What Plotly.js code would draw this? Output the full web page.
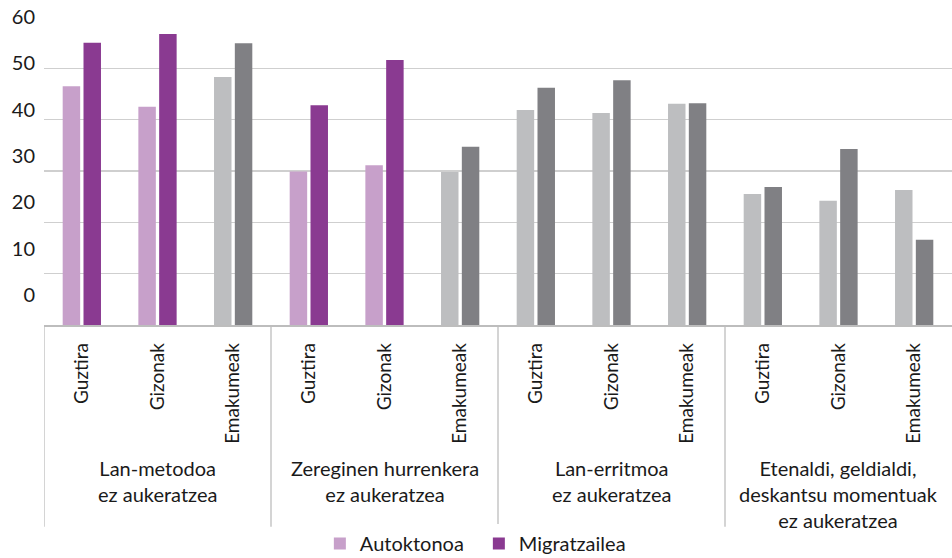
<!DOCTYPE html>
<html>
<head>
<meta charset="utf-8">
<script src="https://cdn.plot.ly/plotly-3.0.1.min.js"></script>
<style>html,body{margin:0;padding:0;background:#fff}#chart{width:952px;height:558px}</style>
</head>
<body>
<div id="chart"></div>
<script>
var groups = ["Lan-metodoa<br>ez aukeratzea", "Zereginen hurrenkera<br>ez aukeratzea", "Lan-erritmoa<br>ez aukeratzea", "Etenaldi, geldialdi,<br>deskantsu momentuak<br>ez aukeratzea"];
var subgroups = ["Guztira", "Gizonak", "Emakumeak"];
var autoktonoa   = [46.5, 42.5, 48.3, 29.9, 31.1, 29.8, 41.9, 41.3, 43.1, 25.5, 24.2, 26.3];
var migratzailea = [55.0, 56.7, 54.9, 42.8, 51.6, 34.7, 46.2, 47.7, 43.2, 26.9, 34.3, 16.6];
// which bars are highlighted (purple) vs neutral (grey)
var highlighted = [1, 1, 0, 1, 1, 0, 0, 0, 0, 0, 0, 0];
var yTicks = [0, 10, 20, 30, 40, 50, 60];

var xPos = [], tickText = [];
for (var g = 0; g < groups.length; g++) {
  for (var s = 0; s < subgroups.length; s++) {
    xPos.push(g * subgroups.length + s);
    tickText.push(subgroups[s]);
  }
}
var lightCols = highlighted.map(function(h){ return h ? "#C7A0CA" : "#BDBEC0"; });
var darkCols  = highlighted.map(function(h){ return h ? "#8A3A91" : "#808084"; });

var FONT = "Lato, sans-serif";
var traces = [
  {type: "bar", name: "Autoktonoa", x: xPos, y: autoktonoa,
   marker: {color: lightCols}, hoverinfo: "y"},
  {type: "bar", name: "Migratzailea", x: xPos, y: migratzailea,
   marker: {color: darkCols}, hoverinfo: "y"},
  // invisible trace only to carry the offset tick labels on a second axis
  {type: "scatter", x: [0], y: [0], yaxis: "y2", mode: "markers",
   marker: {opacity: 0}, showlegend: false, hoverinfo: "skip"}
];

var n = xPos.length;
var shapes = [];
for (var d = 0; d <= groups.length - 1; d++) {
  var xd = d * subgroups.length - 0.5;
  shapes.push({type: "line", xref: "x", yref: "paper", x0: xd, x1: xd, y0: 0, y1: -0.655,
               line: {color: "#BDBDBD", width: 1.3}});
}
var annotations = groups.map(function(gname, i){
  return {xref: "x", yref: "paper", x: i * subgroups.length + 1, y: -0.418,
          yanchor: "top", xanchor: "center", showarrow: false, text: gname,
          font: {family: FONT, size: 20, color: "#1a1a1a"}, align: "center"};
});

var layout = {
  width: 952, height: 558,
  margin: {l: 44, r: 0, t: 17, b: 233},
  paper_bgcolor: "#fff", plot_bgcolor: "#fff",
  barmode: "group", bargap: 0.45, bargroupgap: 0.16,
  showlegend: true,
  legend: {orientation: "h", x: 0.503, xanchor: "center", xref: "container",
           y: 0.061, yanchor: "top", yref: "container",
           font: {family: FONT, size: 20, color: "#1a1a1a"},
           entrywidth: 114, traceorder: "normal"},
  xaxis: {range: [-0.5, n - 0.5], tickvals: xPos, ticktext: tickText, tickangle: -90,
          showgrid: false, zeroline: false, showline: true, linecolor: "#BDBDBD", linewidth: 1.5,
          ticks: "", ticklabelstandoff: 9, automargin: false,
          tickfont: {family: FONT, size: 19, color: "#1a1a1a"}},
  yaxis: {range: [0, 60], tickvals: yTicks, showticklabels: false, showgrid: true, automargin: false,
          gridcolor: "#CFCFCF", gridwidth: 1.5, zeroline: false, showline: false, fixedrange: true},
  yaxis2: {overlaying: "y", side: "left", range: [-6.5, 60], tickvals: yTicks, automargin: false,
           showgrid: false, zeroline: false, showline: false, ticks: "", ticklabelstandoff: 8,
           tickfont: {family: FONT, size: 20, color: "#1a1a1a"}},
  shapes: shapes,
  annotations: annotations
};
Plotly.newPlot("chart", traces, layout, {displayModeBar: false, staticPlot: true});
</script>
</body>
</html>
